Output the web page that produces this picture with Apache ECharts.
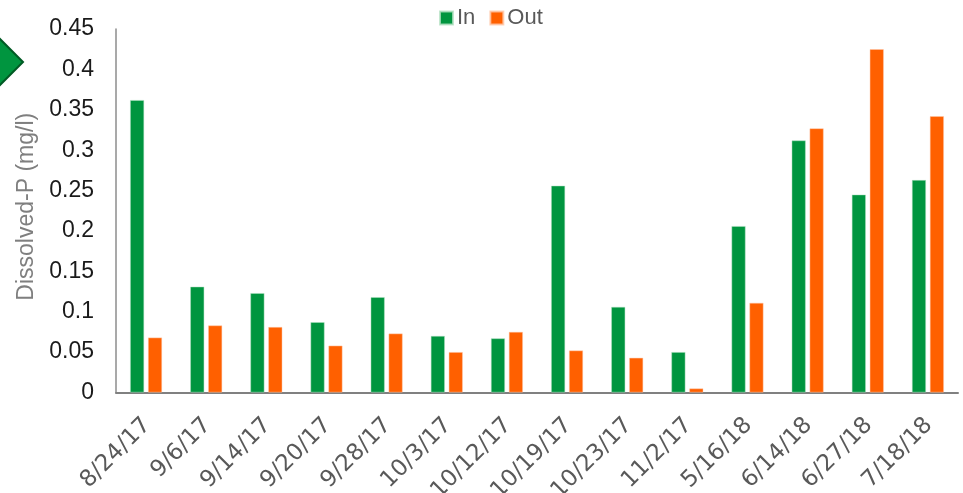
<!DOCTYPE html>
<html>
<head>
<meta charset="utf-8">
<script src="https://cdn.jsdelivr.net/npm/echarts@6/dist/echarts.min.js"></script>
<style>
  html, body { margin: 0; padding: 0; background: #fff; }
  #chart { width: 963px; height: 493px; }
</style>
</head>
<body>
<div id="chart"></div>
<script>
// Sampling dates
const dates = ['8/24/17', '9/6/17', '9/14/17', '9/20/17', '9/28/17', '10/3/17', '10/12/17',
  '10/19/17', '10/23/17', '11/2/17', '5/16/18', '6/14/18', '6/27/18', '7/18/18'];

// Dissolved-P concentrations (mg/l)
const inValues = [0.362, 0.131, 0.123, 0.087, 0.118, 0.070, 0.067,
  0.256, 0.106, 0.050, 0.206, 0.312, 0.245, 0.263];
const outValues = [0.068, 0.083, 0.081, 0.058, 0.073, 0.050, 0.075,
  0.052, 0.043, 0.005, 0.111, 0.327, 0.425, 0.342];

// Value-axis ticks
const yMin = 0;
const yMax = 0.45;
const yStep = 0.05;

const SANS = 'Liberation Sans, Arial, sans-serif';
const WIDE = 'DejaVu Sans, Verdana, sans-serif';

const chart = echarts.init(document.getElementById('chart'), null, { renderer: 'canvas' });

chart.setOption({
  animation: false,
  backgroundColor: '#ffffff',
  legend: {
    top: 7,
    left: 439,
    padding: 0,
    icon: 'rect',
    itemWidth: 13,
    itemHeight: 13,
    itemGap: 14,
    textStyle: { fontFamily: SANS, fontSize: 22, color: '#595959', padding: [0, 0, 0, -1] },
    data: ['In', 'Out']
  },
  grid: {
    left: 116, right: 5, top: 29, bottom: 100.5,
    containLabel: false,
    outerBoundsMode: 'none'
  },
  xAxis: {
    type: 'category',
    data: dates,
    axisLine: { lineStyle: { color: '#808080', width: 2 } },
    axisTick: { show: false },
    axisLabel: {
      rotate: 45,
      margin: 14,
      interval: 0,
      align: 'right',
      verticalAlign: 'top',
      padding: [0, 10, 0, 0],
      fontFamily: WIDE,
      fontSize: 23,
      color: '#595959'
    }
  },
  yAxis: {
    type: 'value',
    min: yMin,
    max: yMax,
    interval: yStep,
    name: 'Dissolved-P (mg/l)',
    nameLocation: 'middle',
    nameGap: 78,
    nameTextStyle: { fontFamily: SANS, fontSize: 23, color: '#7f7f7f', padding: [0, 0, 0, 8] },
    axisLine: { show: true, lineStyle: { color: '#8c8c8c', width: 1.5 } },
    axisTick: { show: false },
    splitLine: { show: false },
    axisLabel: {
      margin: 22,
      fontFamily: SANS,
      fontSize: 23,
      color: '#1a1a1a',
      formatter: v => String(Math.round(v * 100) / 100)
    }
  },
  series: [
    {
      name: 'In',
      type: 'bar',
      data: inValues,
      barWidth: 14,
      barGap: '28%',
      itemStyle: { color: '#00953f', borderColor: 'rgba(180,225,195,0.8)', borderWidth: 0.6 }
    },
    {
      name: 'Out',
      type: 'bar',
      data: outValues,
      barWidth: 14,
      itemStyle: { color: '#ff6000', borderColor: 'rgba(255,200,170,0.8)', borderWidth: 0.6 }
    }
  ],
  graphic: [
    {
      type: 'polygon',
      shape: { points: [[-23, 62], [0, 39], [23, 62], [0, 85]] },
      style: { fill: '#00953f', stroke: '#005a24', lineWidth: 2 },
      z: 10
    }
  ]
});
</script>
</body>
</html>
